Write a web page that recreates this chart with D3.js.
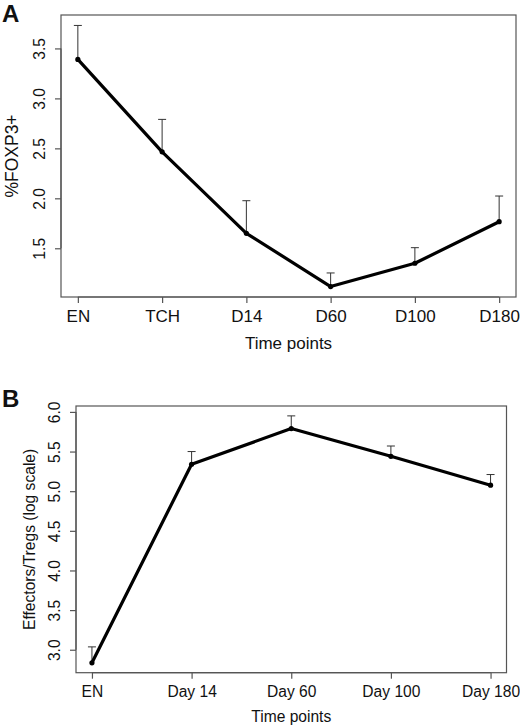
<!DOCTYPE html>
<html>
<head>
<meta charset="utf-8">
<script src="https://cdn.jsdelivr.net/npm/d3@7"></script>
<style>
  body { margin: 0; background: #fff; }
  text { font-family: "Liberation Sans", Arial, sans-serif; fill: #111; }
</style>
</head>
<body>
<div id="chart"></div>
<script>
// Panel A: %FOXP3+
const labelsA = ["EN", "TCH", "D14", "D60", "D100", "D180"];
const meanA = [3.39, 2.465, 1.65, 1.117, 1.35, 1.766];
const upperA = [3.73, 2.79, 1.976, 1.253, 1.506, 2.023];
const ticksA = [1.5, 2.0, 2.5, 3.0, 3.5];

// Panel B: Effectors/Tregs
const labelsB = ["EN", "Day 14", "Day 60", "Day 100", "Day 180"];
const meanB = [2.835, 5.34, 5.79, 5.44, 5.076];
const upperB = [3.036, 5.50, 5.95, 5.57, 5.21];
const ticksB = [3.0, 3.5, 4.0, 4.5, 5.0, 5.5, 6.0];

const svg = d3.select("#chart")
    .append("svg")
    .attr("width", 520)
    .attr("height", 725);

function panel(opts) {
    const { box, labels, mean, upper, ticks, ylab, letter, letterY, fs } = opts;
    const n = labels.length;

    // R style: extend ranges by 4%
    const xPad = 0.04 * (n - 1);
    const x = d3.scaleLinear()
        .domain([1 - xPad, n + xPad])
        .range([box.left, box.right]);

    const lo = d3.min(mean), hi = d3.max(upper);
    const yPad = 0.04 * (hi - lo);
    const y = d3.scaleLinear()
        .domain([lo - yPad, hi + yPad])
        .range([box.bottom, box.top]);

    const g = svg.append("g");

    // box
    g.append("rect")
        .attr("x", box.left)
        .attr("y", box.top)
        .attr("width", box.right - box.left)
        .attr("height", box.bottom - box.top)
        .attr("fill", "none")
        .attr("stroke", "#555")
        .attr("stroke-width", 1.2);

    // x axis
    const xAxis = g.append("g")
        .attr("transform", `translate(0,${box.bottom})`)
        .call(d3.axisBottom(x)
            .tickValues(d3.range(1, n + 1))
            .tickFormat((d, i) => labels[i])
            .tickSize(6)
            .tickSizeOuter(0));
    xAxis.select(".domain").attr("stroke", "#555").attr("stroke-width", 1.2)
        .attr("d", `M${x(1)},0H${x(n)}`);
    xAxis.selectAll(".tick line").attr("stroke", "#555").attr("stroke-width", 1.2);
    xAxis.selectAll("text")
        .style("font-size", fs.x + "px")
        .attr("y", 19)
        .attr("dy", "0.35em");

    // y axis
    const yAxis = g.append("g")
        .attr("transform", `translate(${box.left},0)`)
        .call(d3.axisLeft(y)
            .tickValues(ticks)
            .tickFormat(d3.format(".1f"))
            .tickSize(6)
            .tickSizeOuter(0));
    yAxis.select(".domain").attr("stroke", "#555").attr("stroke-width", 1.2)
        .attr("d", `M0,${y(ticks[0])}V${y(ticks[ticks.length - 1])}`);
    yAxis.selectAll(".tick line").attr("stroke", "#555").attr("stroke-width", 1.2);
    yAxis.selectAll("text")
        .style("font-size", fs.y + "px")
        .attr("text-anchor", "middle")
        .attr("transform", "rotate(-90)")
        .attr("x", 0)
        .attr("y", -21)
        .attr("dy", "0.35em");

    // error bars (upper only)
    const eb = g.append("g").attr("stroke", "#333").attr("stroke-width", 1);
    eb.selectAll(".err")
        .data(mean)
        .enter().append("line")
        .attr("x1", (d, i) => x(i + 1))
        .attr("x2", (d, i) => x(i + 1))
        .attr("y1", d => y(d))
        .attr("y2", (d, i) => y(upper[i]));
    eb.selectAll(".cap")
        .data(upper)
        .enter().append("line")
        .attr("x1", (d, i) => x(i + 1) - 4)
        .attr("x2", (d, i) => x(i + 1) + 4)
        .attr("y1", d => y(d))
        .attr("y2", d => y(d));

    // mean line
    const line = d3.line()
        .x((d, i) => x(i + 1))
        .y(d => y(d));
    g.append("path")
        .datum(mean)
        .attr("d", line)
        .attr("fill", "none")
        .attr("stroke", "#000")
        .attr("stroke-width", 3.2)
        .attr("stroke-linejoin", "round");

    g.selectAll(".pt")
        .data(mean)
        .enter().append("circle")
        .attr("cx", (d, i) => x(i + 1))
        .attr("cy", d => y(d))
        .attr("r", 2.6)
        .attr("fill", "#000");

    // titles
    g.append("text")
        .attr("x", (box.left + box.right) / 2)
        .attr("y", box.bottom + opts.xTitleOffset)
        .attr("dy", "0.35em")
        .attr("text-anchor", "middle")
        .style("font-size", fs.x + "px")
        .text("Time points");

    g.append("text")
        .attr("transform", `translate(${opts.yTitleX},${(box.top + box.bottom) / 2}) rotate(-90)`)
        .attr("dy", "0.35em")
        .attr("text-anchor", "middle")
        .style("font-size", fs.title + "px")
        .text(ylab);

    g.append("text")
        .attr("x", 2)
        .attr("y", letterY)
        .style("font-size", "24px")
        .style("font-weight", "bold")
        .text(letter);
}

panel({
    box: { left: 61, right: 516, top: 15, bottom: 297 },
    labels: labelsA, mean: meanA, upper: upperA, ticks: ticksA,
    ylab: "%FOXP3+", letter: "A", letterY: 22,
    xTitleOffset: 46, yTitleX: 12,
    fs: { x: 17, y: 15.6, title: 17.5 }
});

panel({
    box: { left: 76, right: 506.5, top: 406, bottom: 672.7 },
    labels: labelsB, mean: meanB, upper: upperB, ticks: ticksB,
    ylab: "Effectors/Tregs (log scale)", letter: "B", letterY: 407,
    xTitleOffset: 44, yTitleX: 30,
    fs: { x: 15.6, y: 15.6, title: 15.6 }
});
</script>
</body>
</html>
